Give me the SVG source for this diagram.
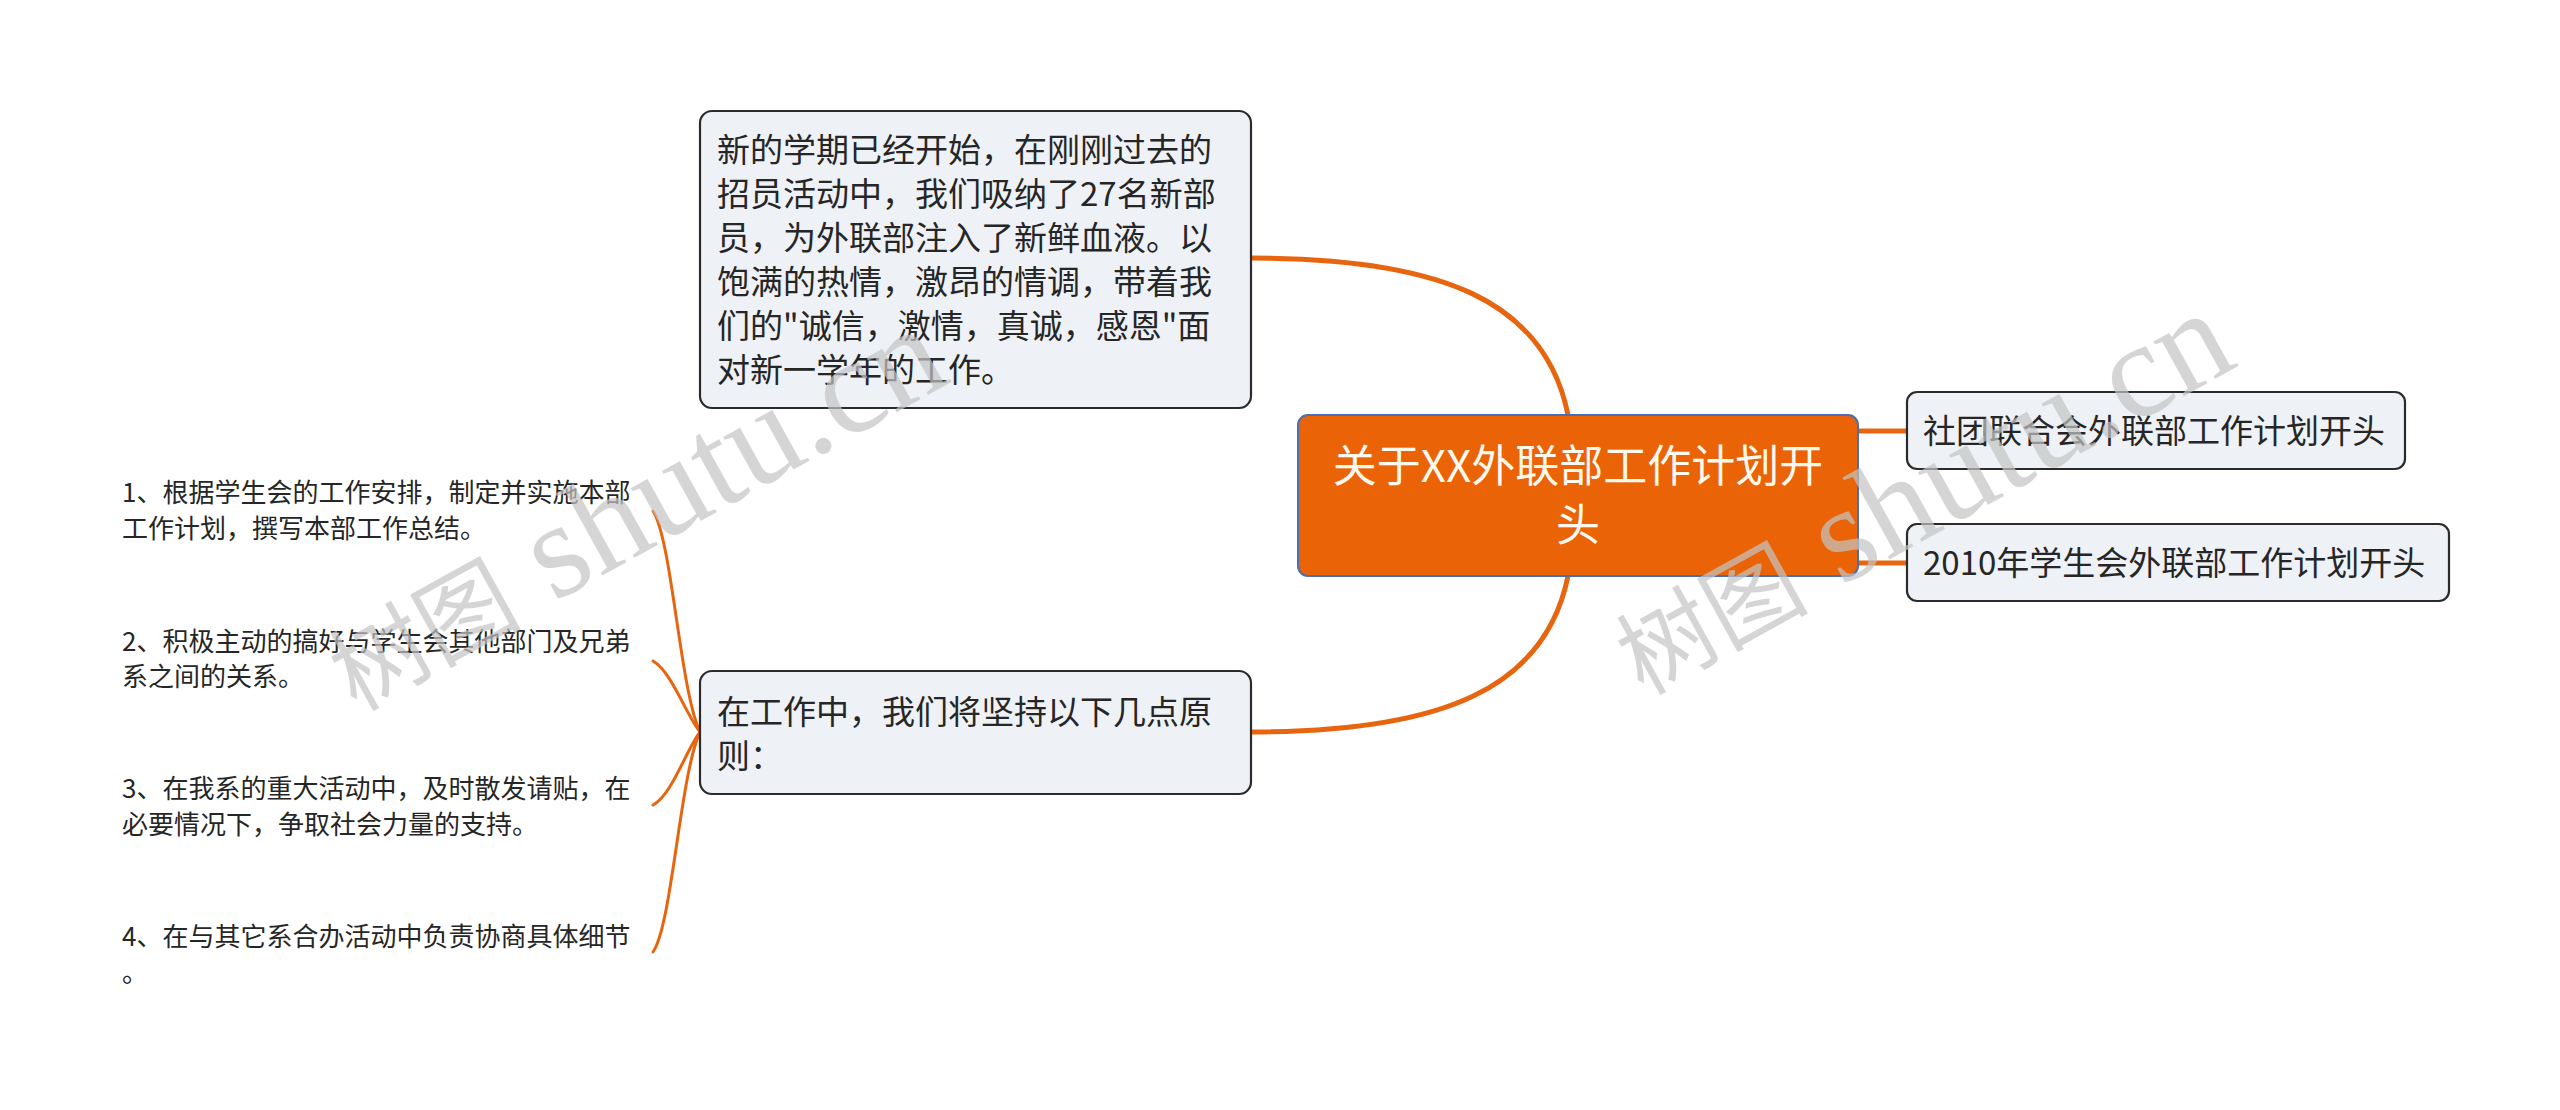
<svg xmlns="http://www.w3.org/2000/svg" width="2560" height="1110" viewBox="0 0 2560 1110">
<style>
.box{fill:#EEF1F5;stroke:#2b2b2b;stroke-width:2.2}
.t{font-family:"Microsoft YaHei","Noto Sans CJK SC","Noto Sans",sans-serif;fill:#262626}
.main{font-size:33px}
.leaf{font-size:26px}
.root{font-family:"Microsoft YaHei","Noto Sans CJK SC","Noto Sans",sans-serif;font-size:44px;fill:#FFF9EE;text-anchor:middle}
.c{fill:none;stroke:#E8650F;stroke-linecap:round}
.c1{stroke-width:5}
.c2{stroke-width:3}
.wm{fill:#c4c4c4;opacity:0.7}
</style>
<rect width="2560" height="1110" fill="#ffffff"/>
<g id="connectors">
<path class="c c1" d="M1568,415 C1545,300 1440,258 1251,258"/>
<path class="c c1" d="M1568,576 C1545,690 1440,732 1251,732"/>
<path class="c c1" d="M1858,431 L1907,431"/>
<path class="c c1" d="M1858,563 L1907,563"/>
<path class="c c2" d="M700,732 C680,690 672,540 653,511"/>
<path class="c c2" d="M700,732 C686,715 672,672 653,661"/>
<path class="c c2" d="M700,732 C686,750 672,795 653,805"/>
<path class="c c2" d="M700,732 C680,775 672,925 653,952"/>
</g>
<g id="node-top">
<rect class="box" x="700" y="111" width="551" height="297" rx="12"/>
<text class="t main" x="717" y="162">新的学期已经开始，在刚刚过去的</text>
<text class="t main" x="717" y="206">招员活动中，我们吸纳了27名新部</text>
<text class="t main" x="717" y="250">员，为外联部注入了新鲜血液。以</text>
<text class="t main" x="717" y="294">饱满的热情，激昂的情调，带着我</text>
<text class="t main" x="717" y="338">们的"诚信，激情，真诚，感恩"面</text>
<text class="t main" x="717" y="382">对新一学年的工作。</text>
</g>
<g id="node-root">
<rect x="1298" y="415" width="560" height="161" rx="10" fill="#EA6307" stroke="#4A6FB0" stroke-width="2"/>
<text class="root" x="1578" y="482">关于XX外联部工作计划开</text>
<text class="root" x="1578" y="541">头</text>
</g>
<g id="node-r1">
<rect class="box" x="1907" y="392" width="498" height="77" rx="10"/>
<text class="t main" x="1923" y="443">社团联合会外联部工作计划开头</text>
</g>
<g id="node-r2">
<rect class="box" x="1907" y="524" width="542" height="77" rx="10"/>
<text class="t main" x="1923" y="575">2010年学生会外联部工作计划开头</text>
</g>
<g id="node-bottom">
<rect class="box" x="700" y="671" width="551" height="123" rx="12"/>
<text class="t main" x="717" y="724">在工作中，我们将坚持以下几点原</text>
<text class="t main" x="717" y="768">则：</text>
</g>
<g id="leaf-1">
<text class="t leaf" x="122" y="502">1、根据学生会的工作安排，制定并实施本部</text>
<text class="t leaf" x="122" y="538">工作计划，撰写本部工作总结。</text>
</g>
<g id="leaf-2">
<text class="t leaf" x="122" y="651">2、积极主动的搞好与学生会其他部门及兄弟</text>
<text class="t leaf" x="122" y="686">系之间的关系。</text>
</g>
<g id="leaf-3">
<text class="t leaf" x="122" y="798">3、在我系的重大活动中，及时散发请贴，在</text>
<text class="t leaf" x="122" y="834">必要情况下，争取社会力量的支持。</text>
</g>
<g id="leaf-4">
<text class="t leaf" x="122" y="946">4、在与其它系合办活动中负责协商具体细节</text>
<text class="t leaf" x="122" y="982">。</text>
</g>
<g id="watermarks">
<text class="wm" transform="translate(356,712) rotate(-29)"><tspan font-family="'Noto Sans CJK SC',serif" font-size="96">树图</tspan><tspan font-family="'Liberation Serif',serif" font-size="136"> shutu.cn</tspan></text>
<text class="wm" transform="translate(1643,696) rotate(-29)"><tspan font-family="'Noto Sans CJK SC',serif" font-size="96">树图</tspan><tspan font-family="'Liberation Serif',serif" font-size="136"> shutu.cn</tspan></text>
</g>
</svg>
